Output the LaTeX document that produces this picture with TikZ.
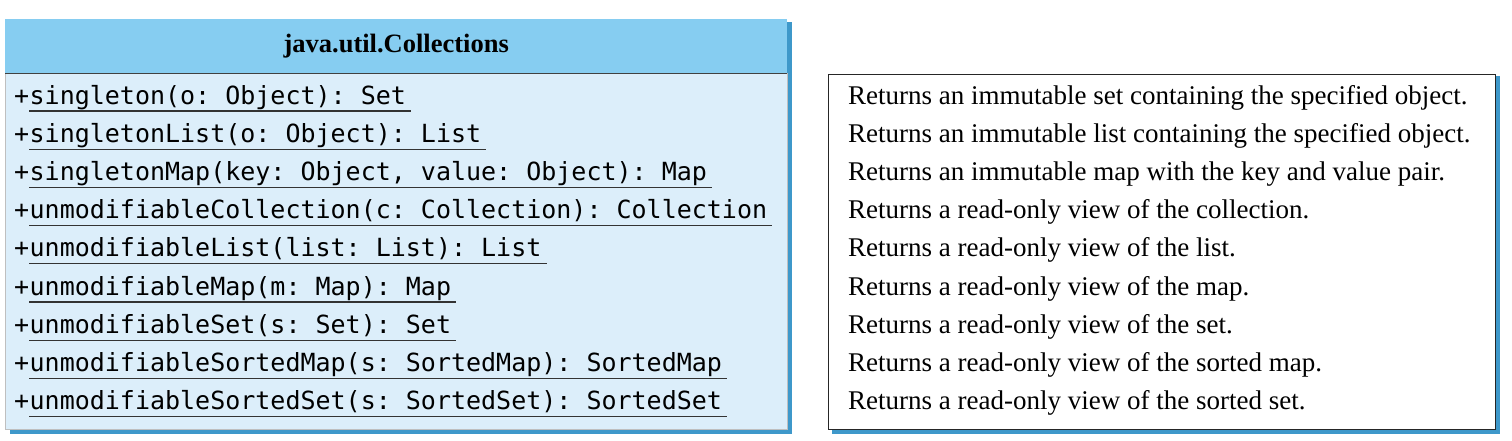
\documentclass[tikz,border=0pt]{standalone}
\usepackage{fontspec}
\setmainfont{Liberation Serif}
\setmonofont{DejaVu Sans Mono}
\usetikzlibrary{positioning, backgrounds}
\definecolor{headblue}{HTML}{86CDF1}
\definecolor{bodyblue}{HTML}{DCEEFA}
\definecolor{shadeblue}{HTML}{3E98CA}
\tikzset{
  classhead/.style={fill=headblue, minimum width=782pt, minimum height=54pt,
    inner sep=0pt, font=\fontsize{26.5}{26.5}\selectfont\bfseries},
  classbody/.style={fill=bodyblue, draw=gray!50, minimum width=782pt, minimum height=356pt,
    inner sep=0pt},
  descbox/.style={draw=black!85, line width=1.4pt, fill=white, minimum width=667pt,
    minimum height=355pt, inner sep=0pt},
  plustext/.style={font=\fontsize{25}{25}\ttfamily, inner sep=0pt, anchor=base west},
  methodtext/.style={font=\fontsize{25}{25}\ttfamily, inner sep=0pt, anchor=base west},
  desctext/.style={font=\fontsize{27}{27}\selectfont, inner sep=0pt, anchor=base west},
  underl/.style={line width=1.3pt, black!80}
}
\begin{document}
\begin{tikzpicture}[x=1pt, y=-1pt]
  \useasboundingbox (0,0) rectangle (1512,440);
  % class box
  \node[classbody, anchor=north west] (body) at (5,73) {};
  \node[classhead, anchor=north west] (head) at (5,19) {java.util.Collections};
  \draw[line width=1.4pt, black!75] (head.south west) -- (head.south east);
  % description box
  \node[descbox, anchor=north west] (desc) at (828,74) {};
  \begin{scope}[on background layer]
    \fill[shadeblue] ([xshift=5pt,yshift=-3pt]head.north east) rectangle ([xshift=5pt,yshift=-5pt]body.south west);
    \fill[shadeblue] ([xshift=4pt,yshift=-2pt]desc.north east) rectangle ([xshift=4pt,yshift=-4pt]desc.south west);
  \end{scope}
  % methods, underlined as static
  \foreach \i/\m in {
    1/{singleton(o: Object): Set},
    2/{singletonList(o: Object): List},
    3/{singletonMap(key: Object, value: Object): Map},
    4/{unmodifiableCollection(c: Collection): Collection},
    5/{unmodifiableList(list: List): List},
    6/{unmodifiableMap(m: Map): Map},
    7/{unmodifiableSet(s: Set): Set},
    8/{unmodifiableSortedMap(s: SortedMap): SortedMap},
    9/{unmodifiableSortedSet(s: SortedSet): SortedSet}} {
    \node[plustext] (p\i) at (14,{104+38.2*(\i-1)}) {+};
    \node[methodtext] (m\i) at (p\i.base east) {\m};
    \draw[underl] ([yshift=-7pt]m\i.base west) -- ([xshift=5pt,yshift=-7pt]m\i.base east);
  }
  % descriptions
  \foreach \i/\d in {
    1/{Returns an immutable set containing the specified object.},
    2/{Returns an immutable list containing the specified object.},
    3/{Returns an immutable map with the key and value pair.},
    4/{Returns a read-only view of the collection.},
    5/{Returns a read-only view of the list.},
    6/{Returns a read-only view of the map.},
    7/{Returns a read-only view of the set.},
    8/{Returns a read-only view of the sorted map.},
    9/{Returns a read-only view of the sorted set.}} {
    \node[desctext] (d\i) at (848,{104+38.2*(\i-1)}) {\d};
  }
\end{tikzpicture}
\end{document}
